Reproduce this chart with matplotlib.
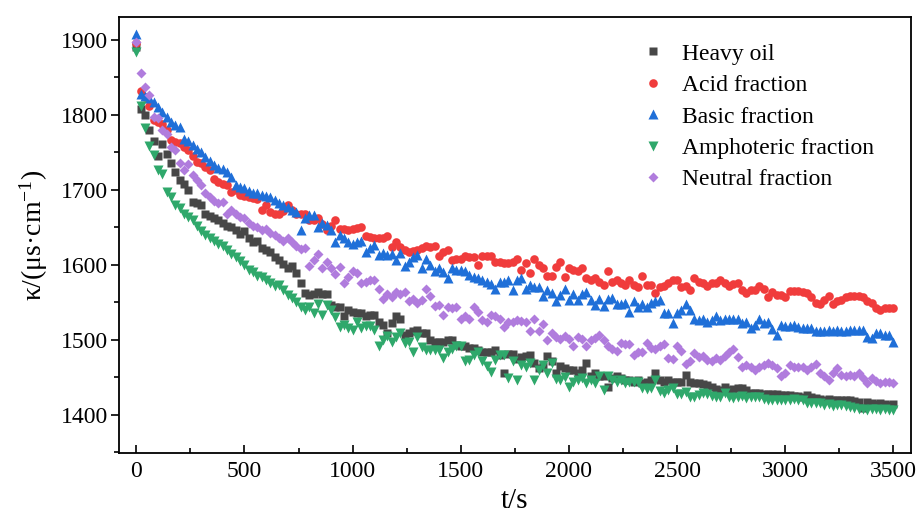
import numpy as np
import matplotlib
matplotlib.use("Agg")
import matplotlib.pyplot as plt
from matplotlib.ticker import MultipleLocator

plt.rcParams['font.family'] = ['Liberation Serif', 'DejaVu Serif']
plt.rcParams['mathtext.fontset'] = 'custom'
plt.rcParams['mathtext.rm'] = 'Liberation Serif'
plt.rcParams['mathtext.default'] = 'regular'

# sampling times, 20 s step
t = np.arange(0, 3501, 20)

heavy_oil = [
    1890, 1808, 1800, 1780, 1765, 1745, 1761, 1747, 1735, 1724,
    1713, 1708, 1700, 1684, 1682, 1679, 1668, 1665, 1662, 1660,
    1655, 1652, 1650, 1646, 1641, 1645, 1636, 1630, 1632, 1622,
    1620, 1617, 1610, 1606, 1601, 1595, 1598, 1589, 1575, 1562,
    1560, 1561, 1563, 1561, 1561, 1546, 1544, 1544, 1532, 1540,
    1537, 1535, 1535, 1531, 1533, 1533, 1524, 1520, 1509, 1522,
    1532, 1527, 1506, 1509, 1511, 1513, 1509, 1509, 1500, 1497,
    1497, 1497, 1500, 1500, 1493, 1491, 1491, 1489, 1489, 1486,
    1484, 1484, 1483, 1486, 1480, 1455, 1481, 1481, 1474, 1477,
    1478, 1480, 1469, 1462, 1465, 1478, 1472, 1456, 1465, 1462,
    1459, 1459, 1455, 1459, 1469, 1452, 1455, 1452, 1451, 1437,
    1449, 1452, 1449, 1446, 1446, 1444, 1446, 1442, 1443, 1446,
    1455, 1446, 1443, 1446, 1443, 1443, 1443, 1453, 1444, 1442,
    1442, 1441, 1440, 1437, 1434, 1433, 1437, 1433, 1434, 1435,
    1435, 1433, 1429, 1429, 1429, 1428, 1428, 1428, 1428, 1426,
    1426, 1426, 1425, 1425, 1424, 1426, 1423, 1422, 1421, 1420,
    1421, 1420, 1420, 1419, 1420, 1419, 1418, 1417, 1409, 1417,
    1415, 1414, 1415, 1414, 1413, 1414,
]

acid = [
    1895, 1832, 1823, 1811, 1793, 1790, 1788, 1780, 1766, 1764,
    1762, 1757, 1753, 1745, 1737, 1735, 1730, 1726, 1714, 1710,
    1708, 1706, 1697, 1700, 1693, 1692, 1690, 1689, 1688, 1673,
    1680, 1670, 1668, 1668, 1672, 1679, 1673, 1668, 1668, 1667,
    1659, 1659, 1662, 1654, 1646, 1652, 1659, 1648, 1647, 1646,
    1648, 1649, 1650, 1638, 1637, 1635, 1636, 1636, 1638, 1624,
    1630, 1624, 1619, 1617, 1618, 1619, 1622, 1625, 1624, 1625,
    1611, 1617, 1619, 1606, 1607, 1608, 1611, 1610, 1610, 1599,
    1612, 1611, 1611, 1604, 1604, 1602, 1602, 1604, 1607, 1593,
    1602, 1589, 1608, 1599, 1595, 1585, 1585, 1597, 1603, 1584,
    1595, 1593, 1592, 1595, 1582, 1579, 1582, 1577, 1573, 1592,
    1577, 1580, 1576, 1573, 1580, 1573, 1570, 1585, 1573, 1573,
    1562, 1570, 1572, 1575, 1579, 1579, 1570, 1572, 1566, 1582,
    1577, 1575, 1571, 1575, 1576, 1580, 1576, 1571, 1574, 1576,
    1566, 1562, 1566, 1566, 1571, 1567, 1557, 1563, 1560, 1560,
    1557, 1565, 1565, 1565, 1564, 1562, 1557, 1549, 1548, 1553,
    1558, 1548, 1551, 1553, 1557, 1558, 1558, 1558, 1557, 1551,
    1549, 1542, 1540, 1542, 1542, 1542,
]

basic = [
    1908, 1828, 1825, 1822, 1817, 1810, 1804, 1797, 1790, 1786,
    1784, 1767, 1765, 1759, 1754, 1750, 1744, 1738, 1733, 1729,
    1727, 1724, 1717, 1706, 1704, 1702, 1698, 1696, 1695, 1693,
    1691, 1690, 1686, 1682, 1679, 1677, 1673, 1670, 1646, 1662,
    1666, 1666, 1650, 1655, 1653, 1646, 1630, 1639, 1635, 1630,
    1628, 1630, 1631, 1617, 1622, 1626, 1613, 1615, 1613, 1614,
    1606, 1615, 1598, 1604, 1610, 1613, 1596, 1607, 1600, 1592,
    1595, 1590, 1582, 1595, 1593, 1593, 1592, 1586, 1584, 1582,
    1579, 1577, 1574, 1568, 1577, 1577, 1580, 1566, 1579, 1582,
    1567, 1573, 1570, 1570, 1558, 1566, 1562, 1552, 1560, 1568,
    1553, 1561, 1553, 1561, 1564, 1553, 1546, 1554, 1545, 1554,
    1556, 1548, 1548, 1549, 1537, 1552, 1543, 1548, 1544, 1549,
    1551, 1553, 1535, 1536, 1522, 1535, 1540, 1548, 1539, 1528,
    1526, 1528, 1523, 1526, 1531, 1526, 1528, 1528, 1528, 1528,
    1522, 1524, 1515, 1520, 1527, 1522, 1524, 1514, 1506, 1520,
    1518, 1518, 1520, 1517, 1515, 1515, 1515, 1512, 1512, 1512,
    1513, 1512, 1513, 1512, 1512, 1513, 1513, 1513, 1513, 1504,
    1502, 1509, 1509, 1506, 1506, 1497,
]

amphoteric = [
    1883, 1811, 1782, 1758, 1746, 1726, 1721, 1697, 1690, 1679,
    1675, 1668, 1663, 1659, 1652, 1645, 1640, 1636, 1632, 1628,
    1625, 1620, 1614, 1610, 1605, 1600, 1593, 1590, 1585, 1583,
    1580, 1575, 1571, 1573, 1566, 1560, 1555, 1550, 1544, 1540,
    1544, 1535, 1548, 1533, 1546, 1540, 1530, 1517, 1520, 1516,
    1513, 1523, 1515, 1518, 1518, 1513, 1491, 1500, 1505, 1497,
    1504, 1509, 1495, 1497, 1484, 1504, 1490, 1486, 1486, 1486,
    1486, 1475, 1484, 1488, 1491, 1491, 1471, 1473, 1480, 1484,
    1471, 1465, 1457, 1473, 1480, 1480, 1449, 1471, 1446, 1466,
    1464, 1469, 1446, 1459, 1466, 1455, 1469, 1447, 1446, 1450,
    1437, 1444, 1446, 1449, 1442, 1446, 1442, 1451, 1433, 1451,
    1446, 1444, 1446, 1442, 1444, 1443, 1444, 1435, 1434, 1435,
    1446, 1431, 1429, 1433, 1435, 1428, 1428, 1430, 1423, 1423,
    1426, 1429, 1428, 1425, 1423, 1424, 1429, 1424, 1422, 1424,
    1425, 1422, 1424, 1423, 1424, 1421, 1420, 1420, 1420, 1420,
    1420, 1420, 1421, 1420, 1419, 1416, 1415, 1415, 1415, 1413,
    1414, 1412, 1413, 1413, 1411, 1410, 1409, 1407, 1407, 1406,
    1408, 1407, 1406, 1407, 1406, 1406,
]

neutral = [
    1897, 1855, 1837, 1826, 1797, 1796, 1779, 1774, 1757, 1753,
    1735, 1726, 1734, 1720, 1713, 1706, 1695, 1690, 1685, 1682,
    1684, 1668, 1673, 1667, 1664, 1662, 1655, 1652, 1650, 1646,
    1648, 1642, 1640, 1635, 1632, 1636, 1630, 1625, 1621, 1622,
    1598, 1606, 1614, 1595, 1604, 1595, 1588, 1597, 1576, 1584,
    1591, 1589, 1576, 1577, 1579, 1580, 1567, 1554, 1561, 1557,
    1564, 1561, 1563, 1551, 1554, 1549, 1553, 1568, 1558, 1545,
    1546, 1533, 1544, 1542, 1544, 1528, 1531, 1528, 1543, 1537,
    1526, 1523, 1533, 1531, 1528, 1517, 1524, 1524, 1526, 1525,
    1523, 1512, 1527, 1512, 1521, 1500, 1509, 1504, 1501, 1505,
    1501, 1492, 1504, 1501, 1492, 1500, 1502, 1506, 1500, 1492,
    1487, 1485, 1495, 1494, 1494, 1480, 1483, 1484, 1496, 1489,
    1487, 1491, 1494, 1475, 1474, 1491, 1485, 1468, 1472, 1482,
    1477, 1478, 1473, 1471, 1475, 1473, 1478, 1484, 1487, 1477,
    1464, 1466, 1464, 1460, 1463, 1466, 1469, 1466, 1462, 1452,
    1455, 1466, 1464, 1464, 1464, 1460, 1464, 1468, 1456, 1451,
    1446, 1455, 1462, 1453, 1452, 1453, 1452, 1455, 1449, 1442,
    1449, 1445, 1442, 1444, 1443, 1442,
]

labels = ['Heavy oil', 'Acid fraction', 'Basic fraction',
          'Amphoteric fraction', 'Neutral fraction']
series = [heavy_oil, acid, basic, amphoteric, neutral]
colors = ['#474747', '#f03c3c', '#1f6fd8', '#2fa86b', '#b07cdd']
markers = ['s', 'o', '^', 'v', 'D']
sizes = [5.6, 6.2, 6.6, 6.6, 5.0]

fig = plt.figure(figsize=(9.2, 5.17), dpi=100)
ax = fig.add_axes([0.1293, 0.1238, 0.8606, 0.8433])

for y, lab, c, m, ms in zip(series, labels, colors, markers, sizes):
    ax.plot(t, y, ls='none', marker=m, ms=ms, color=c, mec='none', label=lab)

ax.set_xlim(-80, 3580)
ax.set_ylim(1349, 1930)
ax.xaxis.set_major_locator(MultipleLocator(500))
ax.xaxis.set_minor_locator(MultipleLocator(250))
ax.yaxis.set_major_locator(MultipleLocator(100))
ax.yaxis.set_minor_locator(MultipleLocator(50))

ax.tick_params(axis='x', which='major', direction='in', length=6, width=1.2,
               labelsize=17, pad=6)
ax.tick_params(axis='x', which='minor', direction='in', length=3.5, width=1.2)
ax.tick_params(axis='y', which='major', direction='out', length=6, width=1.2,
               labelsize=17, pad=1.5)
ax.tick_params(axis='y', which='minor', direction='out', length=3.5, width=1.2)
for s in ax.spines.values():
    s.set_linewidth(1.3)

ax.set_xlabel('t/s', fontsize=21, labelpad=4)
ax.set_ylabel(r'κ/(μs·cm$^{-1}$)', fontsize=20, labelpad=8)

ax.legend(loc='upper left', bbox_to_anchor=(0.659, 0.94), frameon=False,
          fontsize=17, borderpad=0, borderaxespad=0, handlelength=1.0,
          handletextpad=0.75, labelspacing=0.42, markerscale=1.0)

fig.savefig('out.png', dpi=100)
